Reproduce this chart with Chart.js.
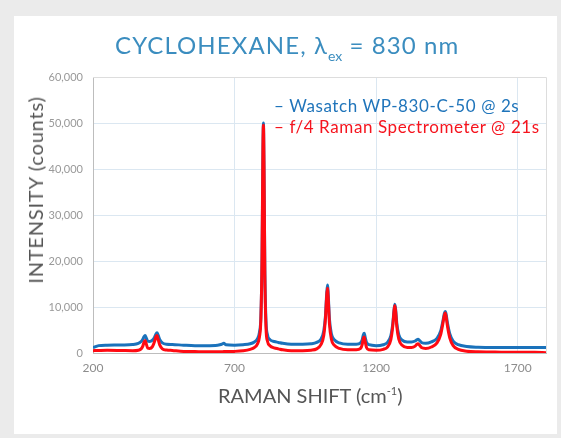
<!DOCTYPE html>
<html>
<head>
<meta charset="utf-8">
<script src="https://cdn.jsdelivr.net/npm/chart.js@4"></script>
<style>
    html, body { margin: 0; padding: 0; }
    body {
        width: 561px;
        height: 438px;
        background: #ebebeb;
        position: relative;
        overflow: hidden;
        font-family: Lato, sans-serif;
    }
    .card {
        position: absolute;
        left: 14px;
        top: 16px;
        width: 543px;
        height: 418px;
        background: #fff;
    }
    canvas { position: absolute; left: 0; top: 0; }
    .title {
        position: absolute;
        left: 115px;
        top: 33px;
        font-size: 24px;
        line-height: 24px;
        letter-spacing: 1.1px;
        color: #3b8dbf;
        white-space: nowrap;
    }
    .title sub { font-size: 14px; vertical-align: -7px; line-height: 0; letter-spacing: 0; }
    .legend {
        position: absolute;
        left: 274px;
        top: 95px;
        font-size: 17px;
        line-height: 21px;
        letter-spacing: 0.6px;
        white-space: nowrap;
    }
    .axis-title {
        position: absolute;
        font-size: 20px;
        line-height: 20px;
        color: #555;
        white-space: nowrap;
    }
    .axis-title sup { font-size: 11px; vertical-align: 8px; line-height: 0; }
    .x-title { left: 218px; top: 385px; }
    .y-title { left: 35px; top: 190px; letter-spacing: 0.8px; transform: translate(-50%, -50%) rotate(-90deg); }
</style>
</head>
<body>
<div class="card"></div>
<canvas id="ramanChart" width="561" height="438"></canvas>
<div class="title">CYCLOHEXANE, λ<sub>ex</sub> = 830 nm</div>
<div class="legend">
    <div style="color:#1f74ba">– Wasatch WP-830-C-50 @ 2s</div>
    <div style="color:#f5141e">– f/4 Raman Spectrometer @ 21s</div>
</div>
<div class="axis-title x-title">RAMAN SHIFT (cm<sup>-1</sup>)</div>
<div class="axis-title y-title">INTENSITY (counts)</div>
<script>
// Raman shift (cm-1)
const shifts = [
    200, 220, 250, 300, 340, 360, 370, 376, 380, 384,
    388, 393, 400, 410, 418, 422, 426, 430, 436, 445,
    460, 480, 520, 560, 600, 640, 655, 662, 670, 700,
    730, 755, 770, 780, 788, 793, 797, 800, 802, 804,
    807, 811, 816, 825, 840, 855, 870, 900, 940, 970,
    990, 1005, 1015, 1021, 1025, 1028, 1031, 1035, 1042, 1052,
    1070, 1100, 1130, 1145, 1151, 1155, 1158, 1161, 1166, 1175,
    1200, 1225, 1240, 1252, 1259, 1263, 1266, 1269, 1273, 1280,
    1292, 1310, 1325, 1338, 1344, 1348, 1352, 1360, 1375, 1395,
    1415, 1428, 1436, 1441, 1444, 1447, 1452, 1460, 1472, 1490,
    1520, 1560, 1620, 1700, 1760, 1800
];

// Wasatch WP-830-C-50 @ 2s
const wasatch = [
    1150, 1600, 1700, 1750, 1850, 2100, 2500, 3000, 3500, 3800,
    3300, 2600, 2500, 2800, 3500, 4100, 4400, 3900, 2900, 2200,
    1900, 1850, 1700, 1600, 1600, 1700, 1900, 2100, 1800, 1700,
    1800, 2000, 2400, 3000, 4500, 8000, 20000, 42000, 50000, 40000,
    18000, 7000, 4000, 2900, 2500, 2300, 2100, 1900, 1900, 2000,
    2300, 3000, 4800, 8000, 12500, 14800, 12500, 7500, 4200, 2900,
    2200, 1900, 1900, 2200, 2900, 4000, 4300, 3500, 2300, 1800,
    1600, 1800, 2300, 3800, 6500, 9200, 10600, 9500, 6500, 4000,
    2800, 2400, 2400, 2600, 2900, 3000, 2800, 2300, 2100, 2400,
    3200, 4800, 7000, 8600, 9000, 8500, 6500, 4200, 2600, 1800,
    1400, 1250, 1200, 1200, 1200, 1200
];

// f/4 Raman Spectrometer @ 21s
const f4Raman = [
    500, 550, 600, 550, 500, 600, 900, 1500, 2300, 2700,
    2000, 1100, 1000, 1400, 2600, 3500, 3800, 3000, 1700, 900,
    650, 550, 350, 300, 250, 250, 250, 300, 300, 350,
    500, 800, 1200, 1900, 3500, 7500, 21000, 44000, 49500, 41000,
    17000, 5500, 2600, 1600, 1100, 900, 700, 500, 500, 600,
    900, 1800, 3800, 7500, 12000, 14100, 11800, 6500, 3000, 1700,
    1000, 700, 700, 1000, 1900, 3200, 3500, 2600, 1200, 700,
    600, 800, 1300, 2900, 6000, 9000, 10300, 9000, 5800, 3000,
    1700, 1200, 1200, 1500, 1900, 2000, 1800, 1200, 1000, 1300,
    2200, 4000, 6500, 8200, 8700, 8000, 5800, 3300, 1600, 800,
    400, 250, 200, 150, 150, 50
];

const xTicks = [200, 700, 1200, 1700];
const yTicks = [0, 10000, 20000, 30000, 40000, 50000, 60000];

const toPoints = (ys) => shifts.map((x, i) => ({ x: x, y: ys[i] }));

// top and right edge of the plot box
const plotFrame = {
    id: 'plotFrame',
    afterDraw(chart) {
        const { ctx, chartArea: a } = chart;
        ctx.save();
        ctx.strokeStyle = '#dddddd';
        ctx.lineWidth = 1;
        ctx.beginPath();
        ctx.moveTo(a.left, a.top + 0.5);
        ctx.lineTo(a.right + 0.5, a.top + 0.5);
        ctx.lineTo(a.right + 0.5, a.bottom);
        ctx.stroke();
        ctx.restore();
    }
};

const ctx = document.getElementById('ramanChart').getContext('2d');

new Chart(ctx, {
    type: 'line',
    data: {
        datasets: [{
            label: 'f/4 Raman Spectrometer @ 21s',
            data: toPoints(f4Raman),
            borderColor: '#ff0a12',
            borderWidth: 3,
            pointRadius: 0,
            cubicInterpolationMode: 'monotone',
            order: 0
        }, {
            label: 'Wasatch WP-830-C-50 @ 2s',
            data: toPoints(wasatch),
            borderColor: '#1a72bb',
            borderWidth: 3,
            pointRadius: 0,
            cubicInterpolationMode: 'monotone',
            order: 1
        }]
    },
    options: {
        responsive: false,
        animation: false,
        layout: {
            padding: { left: 0, right: 15, top: 77, bottom: 55 }
        },
        plugins: {
            legend: { display: false },
            title: { display: false },
            tooltip: { enabled: false }
        },
        scales: {
            x: {
                type: 'linear',
                min: 200,
                max: 1800,
                afterBuildTicks(scale) {
                    scale.ticks = xTicks.map(v => ({ value: v }));
                },
                afterFit(scale) {
                    scale.height = 30;
                },
                grid: {
                    color: '#dbe7f1',
                    drawTicks: false
                },
                border: { color: '#bdbdbd' },
                ticks: {
                    padding: 8,
                    color: '#8c8c8c',
                    font: { family: 'Lato', size: 12 },
                    callback: (v) => String(v)
                }
            },
            y: {
                min: 0,
                max: 60000,
                afterBuildTicks(scale) {
                    scale.ticks = yTicks.map(v => ({ value: v }));
                },
                afterFit(scale) {
                    scale.width = 93;
                },
                grid: {
                    color: (c) => c.tick && c.tick.value === 60000 ? '#dddddd' : '#dbe7f1',
                    drawTicks: false
                },
                border: { color: '#bdbdbd' },
                ticks: {
                    padding: 10,
                    color: '#999999',
                    font: { family: 'Lato', size: 11 },
                    callback: (v) => v.toLocaleString('en-US')
                }
            }
        }
    },
    plugins: [plotFrame]
});
</script>
</body>
</html>
